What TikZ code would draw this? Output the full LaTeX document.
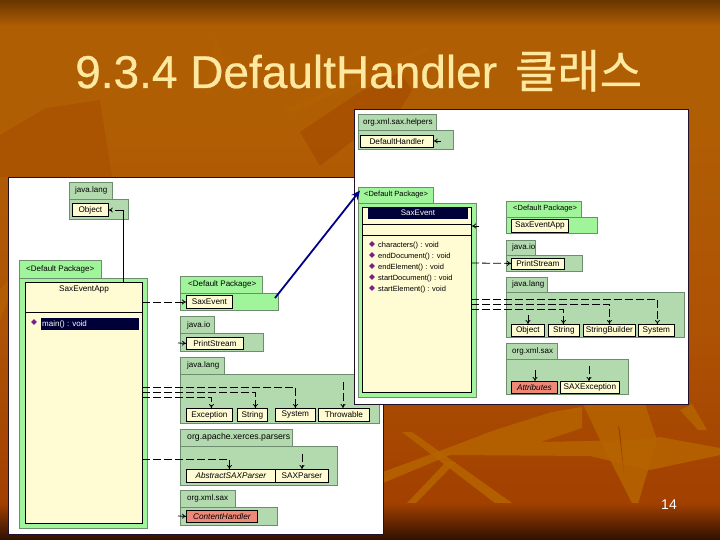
\documentclass[tikz,border=0pt]{standalone}
\usepackage{fontspec}
\setmainfont{Liberation Sans}
\newfontfamily\krfont[FakeBold=0.4]{Noto Sans CJK KR}
\newfontfamily\titlefont[FakeBold=0.5]{Liberation Sans}
\usetikzlibrary{arrows.meta,calc}
\definecolor{pkggreen}{HTML}{B3DAAE}
\definecolor{defgreen}{HTML}{A0F59A}
\definecolor{pkgline}{HTML}{6E8C6E}
\definecolor{cream}{HTML}{FFFBD2}
\definecolor{salmon}{HTML}{F08878}
\definecolor{navy}{HTML}{000038}
\definecolor{titlecol}{HTML}{FFE9A0}
\definecolor{bgtop}{HTML}{683600}
\definecolor{bgup}{HTML}{B05E04}
\definecolor{bgmid}{HTML}{AE5204}
\definecolor{bglow}{HTML}{A24000}
\definecolor{bgbot}{HTML}{2E1000}
\definecolor{leaf}{HTML}{B66400}
\definecolor{leafdark}{HTML}{A64C00}
\definecolor{framecol}{HTML}{20102A}
\definecolor{bulletcol}{HTML}{7A1E8C}
\definecolor{calloutblue}{HTML}{000088}
\tikzset{
 pkgfill/.style={draw=pkgline,line width=0.7pt,fill=#1},
 pkgtext/.style={font=\fontsize{8}{9}\selectfont,anchor=west,inner sep=0pt,text=black},
 clsbox/.style={draw=black,line width=0.8pt,fill=cream,inner sep=0pt,font=\fontsize{8.2}{9}\selectfont,anchor=north west},
 abstractbox/.style={clsbox,fill=#1,font=\fontsize{8.2}{9}\selectfont\itshape},
 dep/.style={draw=black,line width=0.8pt,dash pattern=on 8pt off 3pt,-{To[length=4pt,width=5pt]}},
 windowframe/.style={fill=white,draw=framecol,line width=0.8pt},
 methodtext/.style={font=\fontsize{7.5}{8}\selectfont,anchor=west,inner sep=0pt},
}
\newcommand\pkgshape[7]{% x1 tabx2 y0 y1 x2 y2 fill
 \path[pkgfill=#7] (#1,#3) rectangle (#2,#4);
 \path[pkgfill=#7] (#1,#4) rectangle (#5,#6);}
\newcommand\cls[7][clsbox]{% style name x1 y1 x2 y2 text
 \pgfmathsetmacro\boxw{#5-#3}\pgfmathsetmacro\boxh{#6-#4}
 \node[#1,minimum width=\boxw pt,minimum height=\boxh pt] (#2) at (#3,#4) {#7};}
\newcommand\mbullet[2]{\path[fill=bulletcol] (#1-2.8,#2) -- (#1,#2-2.8) -- (#1+2.8,#2) -- (#1,#2+2.8) -- cycle;}
\begin{document}
\begin{tikzpicture}[x=1pt,y=-1pt]
\useasboundingbox (0,0) rectangle (720,540);
% background
\fill[bgup] (0,25) rectangle (720,120);
\fill[top color=bgup,bottom color=bgmid] (0,120) rectangle (720,330);
\fill[top color=bgmid,bottom color=bglow] (0,330) rectangle (720,503.5);
\fill[top color=bgtop,bottom color=bgup] (0,0) rectangle (720,26);
% leaves (upper)
\fill[leafdark,opacity=.5] (0,177) -- (0,135) -- (46,108) -- (100,100) -- (112,177) -- cycle;
\fill[leafdark,opacity=.7] (320,166) -- (360,135) -- (395,118) -- (412,90) -- (400,72) -- (360,92) -- (300,132) -- cycle;
\fill[leaf,opacity=.4] (284,110) -- (427,47) -- (430,50) -- (290,114) -- cycle;
\fill[leaf,opacity=.4] (215,35) -- (225,60) -- (205,100) -- cycle;
\fill[leaf,opacity=.6] (0,320) -- (8,300) -- (8,280) -- (0,290) -- cycle;
% leaves (lower right)
\fill[leaf,opacity=.85] (383,472) -- (445,449) -- (495,430) -- (552,412) -- (582,407) -- (582,428) -- (540,442) -- (640,440) -- (660,437) -- (720,448) -- (720,455) -- (650,470) -- (590,456) -- (450,455) -- (383,483) -- cycle;
\fill[leaf,opacity=.85] (583,404) -- (645,404) -- (657,440) -- (645,480) -- (636,511) -- (600,440) -- cycle;
\fill[leaf,opacity=.85] (402,432) -- (412,432) -- (512,503) -- (495,503) -- cycle;
\fill[leaf,opacity=.85] (407,503) -- (416,503) -- (456,462) -- (446,462) -- cycle;
\fill[leaf,opacity=.85] (692,404) -- (707,430) -- (698,430) -- (680,410) -- cycle;
\fill[bglow] (618,425) -- (624,473) -- (620,430) -- cycle;
\fill[top color=bglow,bottom color=bgbot] (0,503) rectangle (720,540);
\node[anchor=base west,inner sep=0pt,text=titlecol,font=\fontsize{46}{48}\selectfont] (title) at (75,88) {\titlefont 9.3.4 DefaultHandler\hspace{18pt}{\krfont 클래스}};
\node[anchor=center,inner sep=0pt,text=white,font=\fontsize{14}{15}\selectfont] (pageno) at (669,505) {14};

% ---------- left window
\path[windowframe] (8,177) rectangle (383,534.5);
\pkgshape{69}{112}{182}{199}{128}{219.5}{pkggreen}
\node[pkgtext] (tjl) at (75,190) {java.lang};
\cls{lobj}{72}{203}{108}{216}{Object}
\pkgshape{19.5}{101}{260}{278}{147}{528}{defgreen}
\node[pkgtext] (tdp) at (26,269) {<Default Package>};
\path[draw=black,line width=0.8pt,fill=cream] (25,282) rectangle (142,523);
\coordinate (lc) at (142,302);
\coordinate (lct) at (123,282);
\draw[black,line width=0.8pt] (25,312) -- (142,312);
\node[font=\fontsize{8.2}{9}\selectfont,inner sep=0pt] (lcname) at (84,289) {SaxEventApp};
\path[fill=navy] (41,318) rectangle (139,330);
\mbullet{34}{322}
\node[methodtext,text=white,font=\fontsize{8}{9}\selectfont] (lcm) at (42,324) {main() : void};
% packages
\pkgshape{180}{262}{276}{293}{278}{310.5}{defgreen}
\node[pkgtext] (t1) at (188,284.5) {<Default Package>};
\cls{sv}{186}{295}{232}{308}{SaxEvent}
\pkgshape{180}{214}{316}{333}{263}{351.5}{pkggreen}
\node[pkgtext] (t2) at (187,325) {java.io};
\cls{ps}{186}{337}{243}{349}{PrintStream}
\pkgshape{180}{224}{357}{374}{379}{423}{pkggreen}
\node[pkgtext] (t3) at (187,365) {java.lang};
\cls{exc}{186}{408}{232}{421}{Exception}
\cls{strl}{237}{408}{267}{421}{String}
\cls{sysl}{275}{408}{315}{421}{System}
\cls{thr}{318}{408}{369}{421}{Throwable}
\pkgshape{180}{292}{429}{446}{337}{485}{pkggreen}
\node[pkgtext,font=\fontsize{8.7}{9}\selectfont] (t4) at (187,437.5) {org.apache.xerces.parsers};
\cls[abstractbox=cream]{asp}{186}{469}{275}{482}{AbstractSAXParser}
\cls{sp}{275}{469}{328}{482}{SAXParser}
\pkgshape{180}{235}{490}{507}{277}{525.5}{pkggreen}
\node[pkgtext] (t5) at (187,498.5) {org.xml.sax};
\cls[abstractbox=salmon]{ch}{186}{510}{257}{522}{ContentHandler}
% left connectors
\coordinate (lobjturn) at (123,210);
\draw[black,line width=0.8pt] (lct) -- (lobjturn);
\draw[dep] (lobjturn) -- (lobj.east |- lobjturn);
\draw[dep] (lc) -- (sv.west |- lc);
\coordinate (lsys) at (142,387); \coordinate (lstr) at (142,392); \coordinate (lexc) at (142,397);
\draw[dep] (lsys) -| (sysl.north);
\draw[dep] (lstr) -| ([xshift=3pt]strl.north);
\draw[dep] (lexc) -| ([xshift=2pt]exc.north);
\coordinate (lthr) at (343,382);
\draw[dep] (lthr) -- (thr.north -| lthr);
\coordinate (lasp) at (142,459);
\draw[dep] (lasp) -| ([xshift=-1.5pt]asp.north);
\coordinate (lsp) at (302,454);
\draw[dep] (lsp) -- (sp.north -| lsp);
\coordinate (lpsf) at (178,343);
\draw[dep] (lpsf) -- (ps.west);
\coordinate (lchf) at (178,516);
\draw[dep] (lchf) -- (ch.west);

% ---------- right window
\path[windowframe] (354,109.5) rectangle (688.5,404);
\pkgshape{358}{436}{114}{130}{453}{149}{pkggreen}
\node[pkgtext] (t6) at (363,122) {org.xml.sax.helpers};
\cls{dh}{360}{135}{433}{147}{DefaultHandler}
\pkgshape{358}{433}{187}{203}{476}{397}{defgreen}
\node[pkgtext,font=\fontsize{7.5}{8}\selectfont] (t7) at (364,195) {<Default Package>};
\path[draw=black,line width=0.8pt,fill=cream] (362,207) rectangle (471,392);
\draw[black,line width=0.8pt] (362,224) -- (471,224) (362,235) -- (471,235);
\path[fill=navy] (368,207.5) rectangle (468,219);
\node[font=\fontsize{8}{9}\selectfont,inner sep=0pt,text=white] (rcname) at (418,213) {SaxEvent};
\mbullet{372}{244}\mbullet{372}{255}\mbullet{372}{266}\mbullet{372}{277}\mbullet{372}{288}
\node[methodtext] (m1) at (378,245.5) {characters() : void};
\node[methodtext] (m2) at (378,256.5) {endDocument() : void};
\node[methodtext] (m3) at (378,267.5) {endElement() : void};
\node[methodtext] (m4) at (378,278.5) {startDocument() : void};
\node[methodtext] (m5) at (378,289.5) {startElement() : void};
\pkgshape{506}{581}{201}{217}{597}{233.5}{defgreen}
\node[pkgtext,font=\fontsize{7.5}{8}\selectfont] (t8) at (513,209) {<Default Package>};
\cls{sa}{511}{219}{568}{232}{SaxEventApp}
\pkgshape{506}{535}{240}{255}{582}{271}{pkggreen}
\node[pkgtext] (t9) at (512,247.5) {java.io};
\cls{rps}{511}{257.5}{564}{268.5}{PrintStream}
\pkgshape{506}{547}{277}{292}{684}{337}{pkggreen}
\node[pkgtext] (t10) at (512,284.5) {java.lang};
\cls{robj}{511}{324}{544}{336}{Object}
\cls{rstr}{548}{324}{579}{336}{String}
\cls{rsb}{583}{324}{635}{336}{StringBuilder}
\cls{rsys}{638}{324}{674}{336}{System}
\pkgshape{506}{557}{343}{359}{628}{394.5}{pkggreen}
\node[pkgtext] (t11) at (512,351) {org.xml.sax};
\cls[abstractbox=salmon]{attr}{511}{381}{557}{393}{Attributes}
\cls{se}{560}{381}{619}{393}{SAXException}
% right connectors
\coordinate (rps0) at (471,263);
\draw[dep] (rps0) -- (rps.west);
\coordinate (rs1) at (471,299); \coordinate (rs2) at (471,304); \coordinate (rs3) at (471,309);
\draw[dep] (rs1) -| ([xshift=1pt]rsys.north);
\draw[dep] (rs2) -| (rsb.north);
\draw[dep] (rs3) -| ([xshift=-0.5pt]rstr.north);
\coordinate (robjs) at (528,315);
\draw[dep] (robjs) -- (robj.north -| robjs);
\coordinate (ra) at (535,370);
\draw[dep] (ra) -- (attr.north -| ra);
\coordinate (rb) at (589,366);
\draw[dep] (rb) -- (se.north -| rb);
\coordinate (rinh) at (479,226);
\draw[black,line width=0.8pt,-{To[length=4pt,width=5pt]}] (rinh) -- (472,226);
\coordinate (dhf) at (441,141);
\draw[black,line width=0.8pt,-{To[length=4pt,width=5pt]}] (dhf) -- (dh.east |- dhf);
% blue callout
\coordinate (cs) at (275,298);
\coordinate (ct) at (360,190.5);
\draw[draw=calloutblue,line width=1.8pt,-{Stealth[length=9pt,width=8pt]}] (cs) -- (ct);
\end{tikzpicture}
\end{document}
